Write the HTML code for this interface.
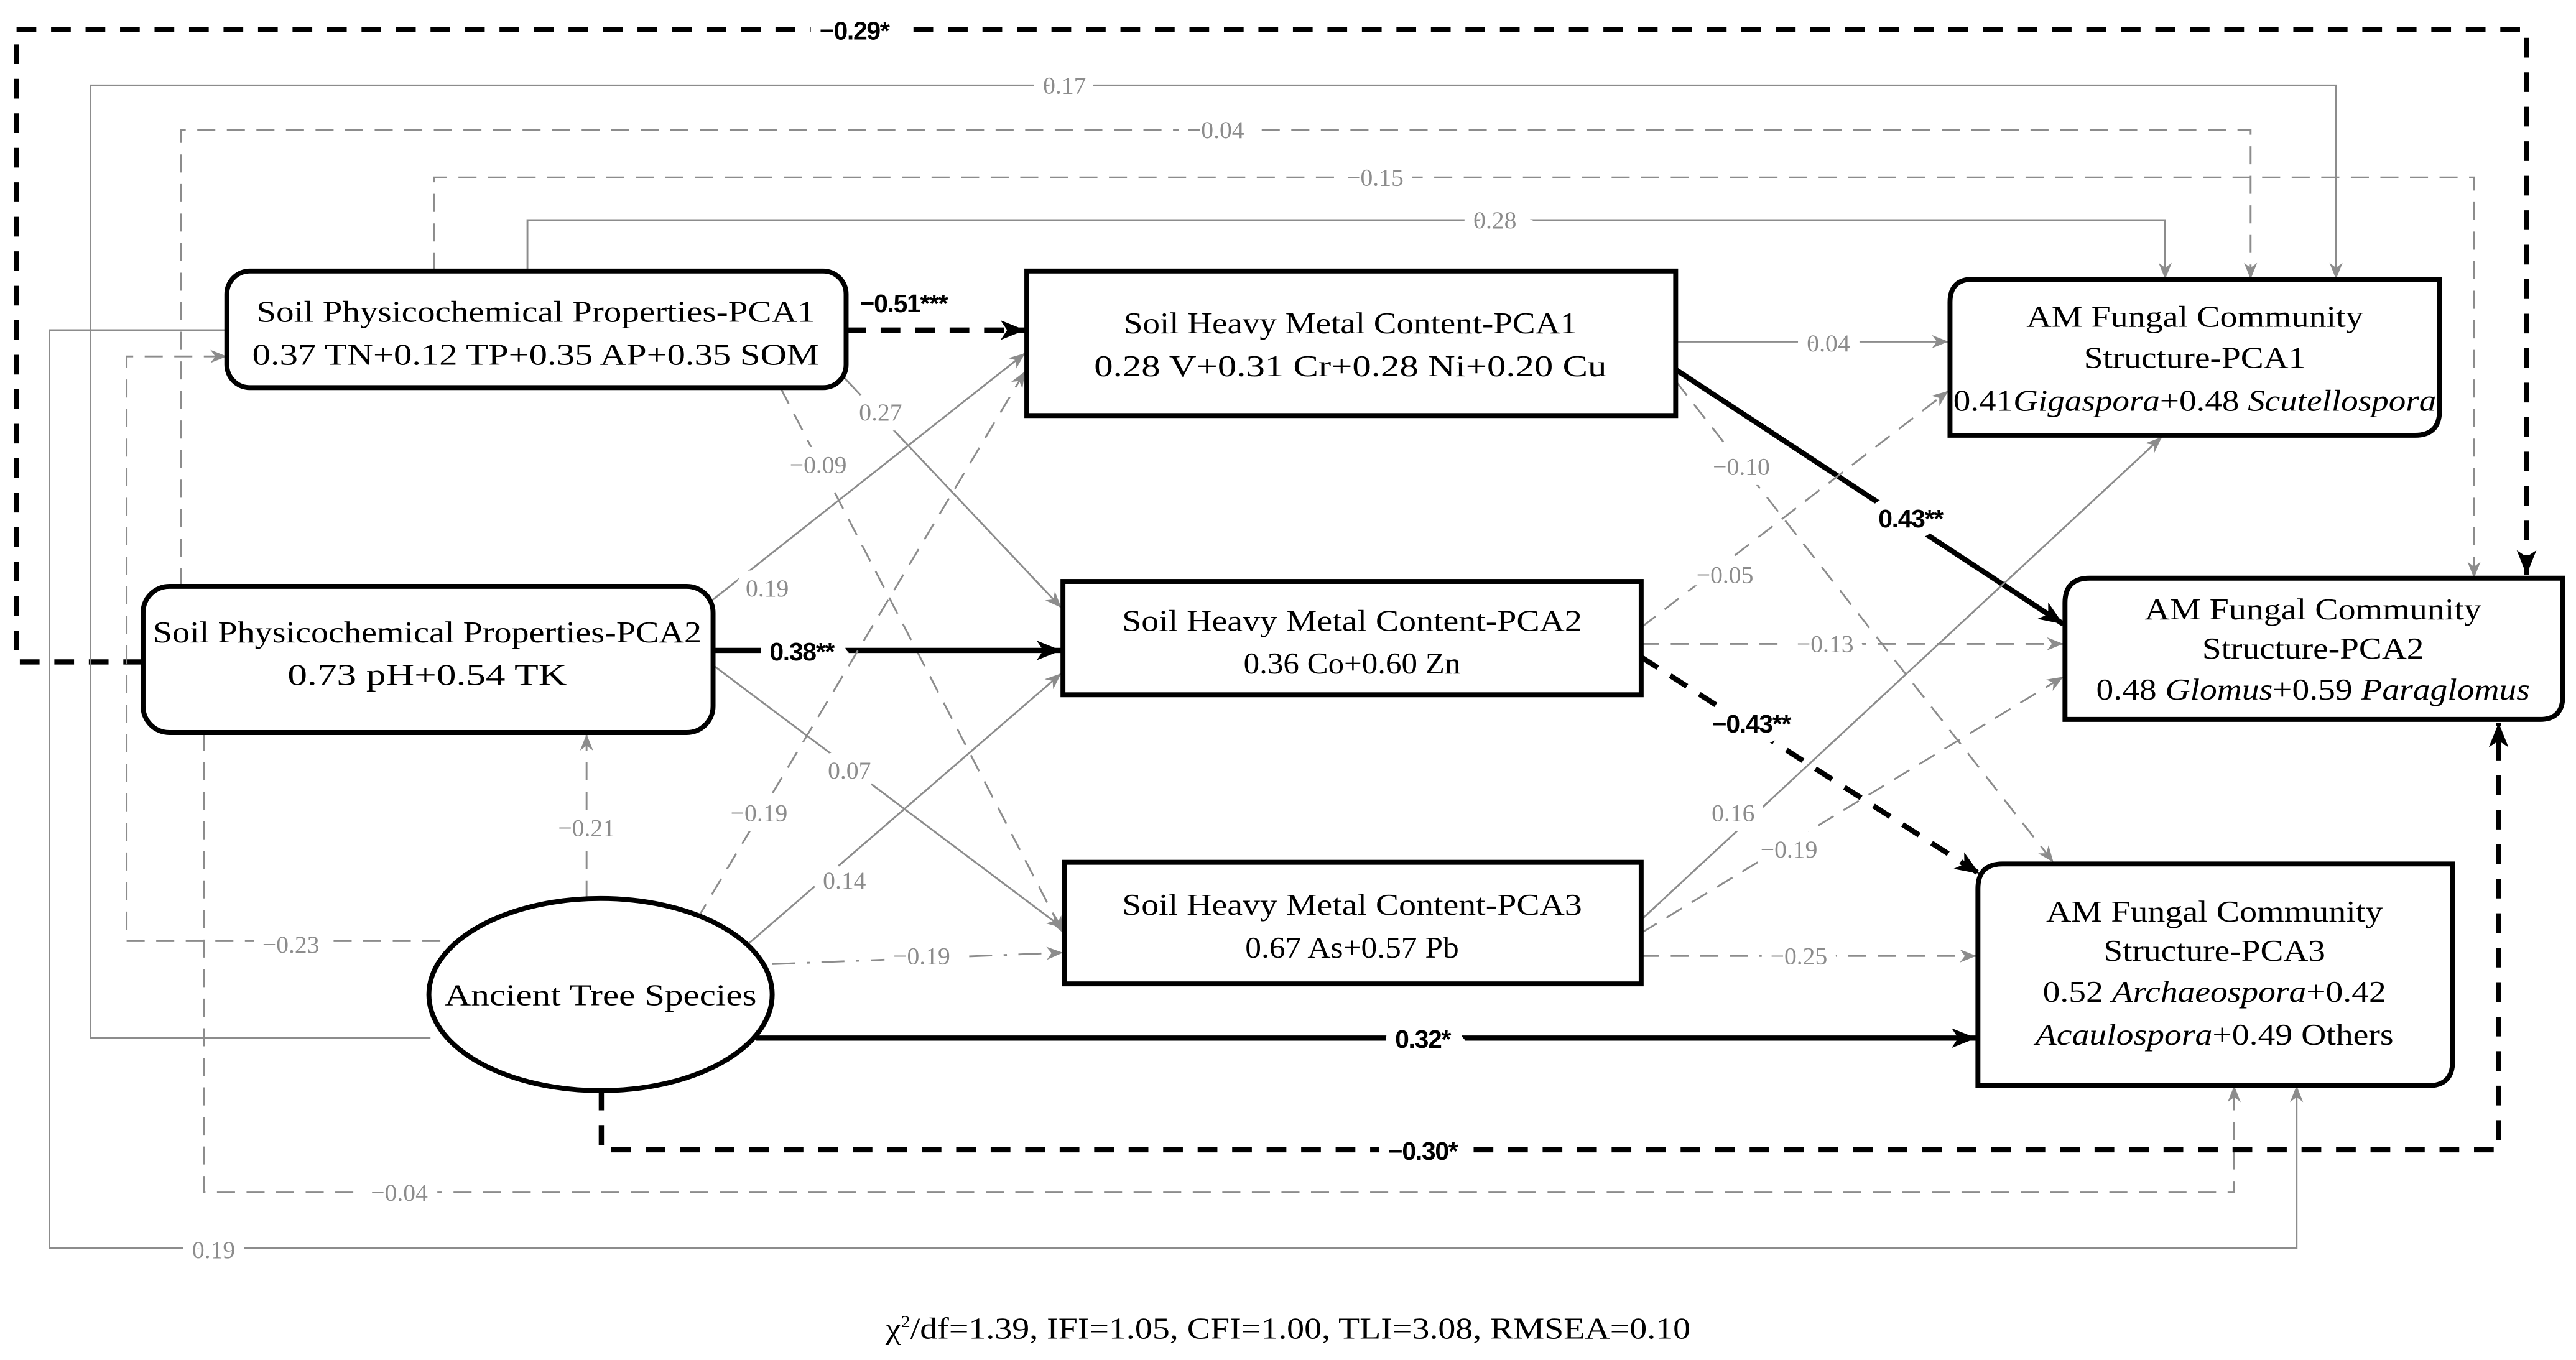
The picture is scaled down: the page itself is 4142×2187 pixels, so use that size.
<!DOCTYPE html>
<html><head><meta charset="utf-8"><style>
html,body{margin:0;padding:0;background:#fff;}
svg{display:block;}
.bx{font-family:"Liberation Serif","Times New Roman",serif;font-size:18.5px;fill:#000;}
.g{font-family:"Liberation Serif","Times New Roman",serif;font-size:15px;fill:#8c8c8c;stroke:#fff;stroke-width:12px;paint-order:stroke;}
.b{font-family:"Liberation Sans Narrow","Liberation Sans",sans-serif;font-weight:bold;font-size:15.5px;fill:#000;stroke:#fff;stroke-width:12px;paint-order:stroke;letter-spacing:-0.5px;}
.gl{stroke:#8c8c8c;stroke-width:1.1;fill:none;}
.gd{stroke:#8c8c8c;stroke-width:1.1;fill:none;stroke-dasharray:11 7;}
.gdd{stroke:#8c8c8c;stroke-width:1.1;fill:none;stroke-dasharray:14 7 2 7;}
.kl{stroke:#000;stroke-width:3.2;fill:none;}
.kd{stroke:#000;stroke-width:3.2;fill:none;stroke-dasharray:12 9;}
.nd{fill:#fff;stroke:#000;stroke-width:3;}
</style></head><body>
<svg xmlns="http://www.w3.org/2000/svg" width="4142" height="2187" viewBox="0 0 1568 828">
<defs>
<marker id="ga" markerUnits="userSpaceOnUse" markerWidth="12" markerHeight="10" refX="10" refY="4" orient="auto"><path d="M0,0 L10,4 L0,8 L3,4 z" fill="#8c8c8c"/></marker>
<marker id="ka" markerUnits="userSpaceOnUse" markerWidth="18" markerHeight="14" refX="15" refY="6" orient="auto"><path d="M0,0 L15,6 L0,12 L4,6 z" fill="#000"/></marker>
</defs>
<rect width="1568" height="828" fill="#fff"/>

<path class="kd" d="M87,403 H10 V18 H1538 V350" marker-end="url(#ka)"/>
<path class="gl" d="M262,632 H55 V52 H1422 V170" marker-end="url(#ga)"/>
<path class="gd" d="M110,357 V79 H1370 V170" marker-end="url(#ga)"/>
<path class="gd" d="M264,165 V108 H1506 V352" marker-end="url(#ga)"/>
<path class="gl" d="M321,165 V134 H1318 V170" marker-end="url(#ga)"/>
<path class="gd" d="M268,573 H77 V217 H138" marker-end="url(#ga)"/>
<path class="gl" d="M138,201 H30 V760 H1398 V661" marker-end="url(#ga)"/>
<path class="gd" d="M124,446 V726 H1360 V661" marker-end="url(#ga)"/>
<path class="kd" d="M366,664 V700 H1521 V440" marker-end="url(#ka)"/>
<path class="gd" d="M357,547 V447" marker-end="url(#ga)"/>

<path class="kd" d="M515,201 H624" marker-end="url(#ka)"/>
<path class="gl" d="M512,228 L646,370" marker-end="url(#ga)"/>
<path class="gd" d="M475,236 L647,568" marker-end="url(#ga)"/>
<path class="gl" d="M434,365 L624,215" marker-end="url(#ga)"/>
<path class="kl" d="M434,396 H646" marker-end="url(#ka)"/>
<path class="gl" d="M434,405 L647,565" marker-end="url(#ga)"/>
<path class="gd" d="M424,560 L624,226" marker-end="url(#ga)"/>
<path class="gl" d="M455,575 L646,410" marker-end="url(#ga)"/>
<path class="gdd" d="M470,587 L647,580" marker-end="url(#ga)"/>
<path class="kl" d="M460,632 H1203" marker-end="url(#ka)"/>

<path class="gl" d="M1020,208 H1186" marker-end="url(#ga)"/>
<path class="kl" d="M1020,225 L1256,380" marker-end="url(#ka)"/>
<path class="gd" d="M1020,232 L1250,525" marker-end="url(#ga)"/>
<path class="gd" d="M999,382 L1186,238" marker-end="url(#ga)"/>
<path class="gd" d="M999,392 H1256" marker-end="url(#ga)"/>
<path class="kd" d="M999,400 L1205,532" marker-end="url(#ka)"/>
<path class="gl" d="M999,560 L1316,266" marker-end="url(#ga)"/>
<path class="gd" d="M999,568 L1256,412" marker-end="url(#ga)"/>
<path class="gd" d="M999,582 H1203" marker-end="url(#ga)"/>

<text class="b" x="520" y="24" text-anchor="middle">−0.29*</text>
<text class="g" x="648" y="57" text-anchor="middle">0.17</text>
<text class="g" x="740" y="84" text-anchor="middle">−0.04</text>
<text class="g" x="837" y="113" text-anchor="middle">−0.15</text>
<text class="g" x="910" y="139" text-anchor="middle">0.28</text>
<text class="b" x="550" y="190" text-anchor="middle">−0.51***</text>
<text class="g" x="536" y="256" text-anchor="middle">0.27</text>
<text class="g" x="498" y="288" text-anchor="middle">−0.09</text>
<text class="g" x="467" y="363" text-anchor="middle">0.19</text>
<text class="b" x="488" y="402" text-anchor="middle">0.38**</text>
<text class="g" x="517" y="474" text-anchor="middle">0.07</text>
<text class="g" x="462" y="500" text-anchor="middle">−0.19</text>
<text class="g" x="514" y="541" text-anchor="middle">0.14</text>
<text class="g" x="357" y="509" text-anchor="middle">−0.21</text>
<text class="g" x="177" y="580" text-anchor="middle">−0.23</text>
<text class="g" x="561" y="587" text-anchor="middle">−0.19</text>
<text class="b" x="866" y="638" text-anchor="middle">0.32*</text>
<text class="b" x="866" y="706" text-anchor="middle">−0.30*</text>
<text class="g" x="243" y="731" text-anchor="middle">−0.04</text>
<text class="g" x="130" y="766" text-anchor="middle">0.19</text>
<text class="g" x="1113" y="214" text-anchor="middle">0.04</text>
<text class="g" x="1060" y="289" text-anchor="middle">−0.10</text>
<text class="b" x="1163" y="321" text-anchor="middle">0.43**</text>
<text class="g" x="1050" y="355" text-anchor="middle">−0.05</text>
<text class="g" x="1111" y="397" text-anchor="middle">−0.13</text>
<text class="b" x="1066" y="446" text-anchor="middle">−0.43**</text>
<text class="g" x="1055" y="500" text-anchor="middle">0.16</text>
<text class="g" x="1089" y="522" text-anchor="middle">−0.19</text>
<text class="g" x="1095" y="587" text-anchor="middle">−0.25</text>

<rect class="nd" x="138" y="165" width="377" height="71" rx="14"/>
<text class="bx" x="326" y="196" text-anchor="middle" textLength="340" lengthAdjust="spacingAndGlyphs">Soil Physicochemical Properties-PCA1</text>
<text class="bx" x="326" y="222" text-anchor="middle" textLength="345" lengthAdjust="spacingAndGlyphs">0.37 TN+0.12 TP+0.35 AP+0.35 SOM</text>

<rect class="nd" x="87" y="357" width="347" height="89" rx="16"/>
<text class="bx" x="260" y="391" text-anchor="middle" textLength="334" lengthAdjust="spacingAndGlyphs">Soil Physicochemical Properties-PCA2</text>
<text class="bx" x="260" y="417" text-anchor="middle" textLength="170" lengthAdjust="spacingAndGlyphs">0.73 pH+0.54 TK</text>

<rect class="nd" x="625" y="165" width="395" height="88"/>
<text class="bx" x="822" y="203" text-anchor="middle" textLength="276" lengthAdjust="spacingAndGlyphs">Soil Heavy Metal Content-PCA1</text>
<text class="bx" x="822" y="229" text-anchor="middle" textLength="312" lengthAdjust="spacingAndGlyphs">0.28 V+0.31 Cr+0.28 Ni+0.20 Cu</text>

<rect class="nd" x="647" y="354" width="352" height="69"/>
<text class="bx" x="823" y="384" text-anchor="middle" textLength="280" lengthAdjust="spacingAndGlyphs">Soil Heavy Metal Content-PCA2</text>
<text class="bx" x="823" y="410" text-anchor="middle" textLength="132" lengthAdjust="spacingAndGlyphs">0.36 Co+0.60 Zn</text>

<rect class="nd" x="648" y="525" width="351" height="74"/>
<text class="bx" x="823" y="557" text-anchor="middle" textLength="280" lengthAdjust="spacingAndGlyphs">Soil Heavy Metal Content-PCA3</text>
<text class="bx" x="823" y="583" text-anchor="middle" textLength="130" lengthAdjust="spacingAndGlyphs">0.67 As+0.57 Pb</text>

<path class="nd" d="M1201,170 H1485 V250 Q1485,265 1470,265 H1187 V184 Q1187,170 1201,170 z"/>
<text class="bx" x="1336" y="199" text-anchor="middle" textLength="205" lengthAdjust="spacingAndGlyphs">AM Fungal Community</text>
<text class="bx" x="1336" y="224" text-anchor="middle" textLength="135" lengthAdjust="spacingAndGlyphs">Structure-PCA1</text>
<text class="bx" x="1336" y="250" text-anchor="middle" textLength="294" lengthAdjust="spacingAndGlyphs">0.41<tspan font-style="italic">Gigaspora</tspan>+0.48 <tspan font-style="italic">Scutellospora</tspan></text>

<path class="nd" d="M1272,352 H1560 V424 Q1560,438 1546,438 H1257 V367 Q1257,352 1272,352 z"/>
<text class="bx" x="1408" y="377" text-anchor="middle" textLength="205" lengthAdjust="spacingAndGlyphs">AM Fungal Community</text>
<text class="bx" x="1408" y="401" text-anchor="middle" textLength="135" lengthAdjust="spacingAndGlyphs">Structure-PCA2</text>
<text class="bx" x="1408" y="426" text-anchor="middle" textLength="264" lengthAdjust="spacingAndGlyphs">0.48 <tspan font-style="italic">Glomus</tspan>+0.59 <tspan font-style="italic">Paraglomus</tspan></text>

<path class="nd" d="M1219,526 H1493 V646 Q1493,661 1478,661 H1204 V541 Q1204,526 1219,526 z"/>
<text class="bx" x="1348" y="561" text-anchor="middle" textLength="205" lengthAdjust="spacingAndGlyphs">AM Fungal Community</text>
<text class="bx" x="1348" y="585" text-anchor="middle" textLength="135" lengthAdjust="spacingAndGlyphs">Structure-PCA3</text>
<text class="bx" x="1348" y="610" text-anchor="middle" textLength="209" lengthAdjust="spacingAndGlyphs">0.52 <tspan font-style="italic">Archaeospora</tspan>+0.42</text>
<text class="bx" x="1348" y="636" text-anchor="middle" textLength="218" lengthAdjust="spacingAndGlyphs"><tspan font-style="italic">Acaulospora</tspan>+0.49 Others</text>

<ellipse class="nd" cx="365.5" cy="605.5" rx="104.5" ry="58.5"/>
<text class="bx" x="365.5" y="612" text-anchor="middle" textLength="190" lengthAdjust="spacingAndGlyphs">Ancient Tree Species</text>

<text class="bx" x="784" y="815" text-anchor="middle" textLength="490" lengthAdjust="spacingAndGlyphs" style="font-size:18.5px">χ<tspan dy="-7" font-size="10">2</tspan><tspan dy="7">/df=1.39,  IFI=1.05, CFI=1.00, TLI=3.08,  RMSEA=0.10</tspan></text>
</svg>
</body></html>
